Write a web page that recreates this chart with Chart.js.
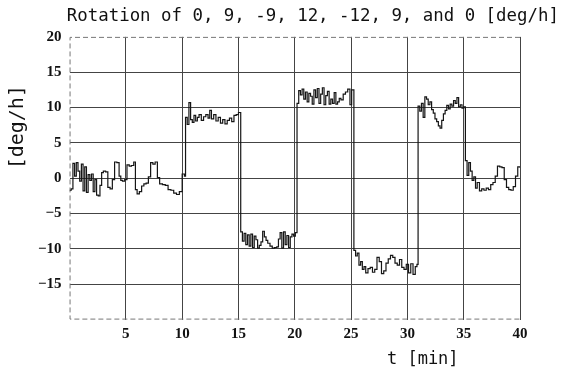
<!DOCTYPE html>
<html>
<head>
<meta charset="utf-8">
<script src="https://cdn.jsdelivr.net/npm/chart.js@4.4.1/dist/chart.umd.min.js"></script>
<style>
  html, body { margin: 0; background: #fff; }
  #wrap { width: 566px; height: 374px; }
</style>
</head>
<body>
<div id="wrap"><canvas id="rotation"></canvas></div>
<script>
const timeMin = [
  0, 0.15, 0.3, 0.45, 0.6, 0.75, 0.9, 1.05, 1.2, 1.35, 1.5, 1.65, 1.8, 1.95, 2.1, 2.25, 2.4, 2.55, 2.7, 2.85,
  3.0, 3.2, 3.4, 3.6, 3.8, 4.0, 4.2, 4.4, 4.55, 4.7, 4.9, 5.1, 5.3, 5.5, 5.7, 5.85, 6.0, 6.2, 6.4, 6.6,
  6.8, 7.0, 7.2, 7.4, 7.6, 7.8, 8.0, 8.25, 8.5, 8.75, 9.0, 9.25, 9.5, 9.75, 10.0, 10.2,
  10.3, 10.45, 10.6, 10.75, 10.9, 11.05, 11.2, 11.35, 11.5, 11.7, 11.9, 12.1, 12.3, 12.45, 12.6, 12.8,
  13.0, 13.2, 13.4, 13.6, 13.8, 14.0, 14.2, 14.4, 14.6, 14.8, 15.0,
  15.2, 15.35, 15.5, 15.65, 15.8, 15.95, 16.1, 16.25, 16.4, 16.55, 16.7, 16.85, 17.0, 17.15, 17.3, 17.45,
  17.6, 17.8, 18.0, 18.2, 18.4, 18.55, 18.7, 18.85, 19.0, 19.15, 19.3, 19.45, 19.6, 19.75, 19.9, 20.05,
  20.2, 20.35, 20.5, 20.65, 20.8, 20.95, 21.1, 21.25, 21.4, 21.55, 21.7, 21.85, 22.0, 22.15, 22.3, 22.45,
  22.6, 22.75, 22.9, 23.05, 23.2, 23.35, 23.5, 23.65, 23.8, 23.95, 24.1, 24.3, 24.5, 24.7, 24.9, 25.05,
  25.25, 25.4, 25.55, 25.7, 25.85, 26.0, 26.15, 26.3, 26.5, 26.7, 26.9, 27.1, 27.3, 27.5, 27.7, 27.9,
  28.1, 28.3, 28.5, 28.7, 28.9, 29.1, 29.3, 29.5, 29.7, 29.9, 30.1, 30.3, 30.5, 30.7, 30.85,
  30.95, 31.1, 31.25, 31.4, 31.55, 31.7, 31.85, 32.0, 32.15, 32.3, 32.45, 32.6, 32.75, 32.9, 33.05, 33.2,
  33.35, 33.5, 33.65, 33.8, 33.95, 34.1, 34.25, 34.4, 34.55, 34.7, 34.85, 35.0,
  35.15, 35.3, 35.45, 35.6, 35.75, 35.9, 36.05, 36.2, 36.4, 36.6, 36.8, 37.0, 37.2, 37.4, 37.6, 37.8,
  38.0, 38.2, 38.4, 38.6, 38.8, 39.0, 39.2, 39.4, 39.6, 39.8, 40.0
];
const rateDegH = [
  -1.7, -1.5, 2.1, 0.3, 2.2, 1.0, -0.4, 2.0, -1.8, 1.6, -2.0, 0.5, -0.3, 0.6, -1.9, -0.2, -2.4, -2.5, -1.0, 0.8,
  1.0, 0.9, -1.3, -1.5, -0.2, 2.3, 2.2, 0.3, -0.3, -0.4, -0.2, 1.9, 1.7, 1.8, 2.3, -1.6, -2.2, -1.9, -1.1, -0.8,
  -0.7, 0.2, 2.2, 2.0, 2.3, 0.1, -0.8, -0.9, -1.0, -1.6, -1.7, -2.1, -2.3, -1.9, 0.6, 0.3,
  8.6, 7.6, 10.7, 8.3, 7.9, 8.9, 8.1, 8.6, 9.0, 8.2, 8.7, 9.0, 8.5, 9.6, 8.4, 9.0,
  8.1, 8.6, 7.8, 8.3, 7.7, 8.2, 8.5, 8.0, 8.9, 9.0, 9.3,
  -7.6, -8.9, -7.8, -9.4, -8.0, -9.6, -7.9, -9.8, -8.2, -8.7, -9.9, -9.5, -9.0, -7.5, -8.3, -8.8,
  -9.2, -9.6, -9.9, -9.8, -9.7, -8.6, -7.7, -9.9, -7.6, -9.4, -8.1, -9.8, -8.3, -7.9, -8.2, -7.7,
  10.6, 12.4, 11.8, 12.6, 11.2, 12.2, 10.8, 12.0, 11.6, 10.5, 12.5, 11.4, 12.7, 10.6, 11.9, 12.8,
  10.4, 11.7, 12.3, 10.5, 11.2, 10.6, 12.1, 10.5, 10.8, 11.3, 11.1, 11.9, 12.2, 12.6, 10.4, 12.5,
  -10.2, -11.0, -10.6, -12.3, -11.8, -12.9, -12.5, -13.4, -12.8, -12.6, -13.3, -12.9, -11.2, -11.8, -13.5, -13.1,
  -12.0, -11.4, -10.9, -11.2, -12.0, -12.3, -11.5, -12.6, -12.9, -12.2, -13.4, -12.1, -13.6, -12.5, -12.2,
  10.2, 9.5, 10.6, 8.6, 11.5, 11.2, 10.4, 10.8, 9.7, 9.2, 8.4, 8.0, 7.4, 7.1, 8.2, 9.1,
  9.6, 10.3, 9.8, 10.5, 10.2, 11.0, 10.6, 11.4, 10.1, 10.4, 9.9, 10.1,
  2.5, 0.4, 2.2, 1.0, -0.3, 0.2, -1.4, -0.6, -1.8, -1.5, -1.7, -1.4, -1.6, -0.9, -0.6, 0.3,
  1.7, 1.6, 1.5, -0.2, -1.3, -1.6, -1.7, -1.2, 0.3, 1.6, 1.5
];
const xRange = [0, 40];
const yRange = [-20, 20];
const tickStep = 5;

const titleText = 'Rotation of 0, 9, -9, 12, -12, 9, and 0 [deg/h]';

// dashed outer frame (left, top, bottom) like the scanned plot
const dashedFrame = {
  id: 'dashedFrame',
  beforeDatasetsDraw(chart) {
    const {ctx, chartArea: a} = chart;
    ctx.save();
    ctx.strokeStyle = '#777';
    ctx.lineWidth = 1;
    ctx.setLineDash([5, 3]);
    ctx.beginPath();
    ctx.moveTo(a.right, a.top + 0.5);
    ctx.lineTo(a.left + 0.5, a.top + 0.5);
    ctx.lineTo(a.left + 0.5, a.bottom - 0.5);
    ctx.lineTo(a.right, a.bottom - 0.5);
    ctx.stroke();
    ctx.restore();
  }
};

const tickFont = {family: 'Liberation Serif', size: 15, weight: 'bold'};
const labelFamily = 'DejaVu Sans Mono';
const fmtTick = v => String(v).replace('-', '\u2212');

new Chart(document.getElementById('rotation'), {
  type: 'line',
  data: {
    datasets: [{
      data: timeMin.map((t, i) => ({x: t, y: rateDegH[i]})),
      borderColor: '#151515',
      borderWidth: 1.2,
      pointRadius: 0,
      stepped: true,
      fill: false
    }]
  },
  options: {
    responsive: true,
    maintainAspectRatio: false,
    animation: false,
    devicePixelRatio: 1,
    layout: {padding: {left: 4, right: 4, bottom: 3, top: 0}},
    plugins: {
      legend: {display: false},
      tooltip: {enabled: false},
      title: {
        display: true,
        text: ' '.repeat(6) + titleText,
        align: 'start',
        color: '#111',
        font: {family: labelFamily, size: 17.4, weight: 'normal'},
        padding: {top: 6, bottom: 10}
      }
    },
    scales: {
      x: {
        type: 'linear',
        min: xRange[0],
        max: xRange[1],
        ticks: {
          stepSize: tickStep,
          color: '#111',
          font: tickFont,
          padding: 6,
          callback: v => (v === xRange[0] ? '' : fmtTick(v))
        },
        grid: {
          drawTicks: false,
          lineWidth: 1,
          color: c => (c.tick && c.tick.value === xRange[0]) ? 'rgba(0,0,0,0)' : '#444'
        },
        border: {display: false},
        title: {
          display: true,
          text: 't [min]' + ' '.repeat(6),
          align: 'end',
          color: '#111',
          font: {family: labelFamily, size: 17},
          padding: {top: 0, bottom: 1}
        }
      },
      y: {
        min: yRange[0],
        max: yRange[1],
        ticks: {
          stepSize: tickStep,
          color: '#111',
          font: tickFont,
          padding: 8,
          callback: v => (v === yRange[0] ? '' : fmtTick(v))
        },
        grid: {
          drawTicks: false,
          lineWidth: 1,
          color: c => (c.tick && (c.tick.value === yRange[0] || c.tick.value === yRange[1])) ? 'rgba(0,0,0,0)' : '#444'
        },
        border: {display: false},
        title: {
          display: true,
          text: '[deg/h]' + ' '.repeat(4),
          align: 'end',
          color: '#111',
          font: {family: labelFamily, size: 20},
          padding: {top: 2, bottom: 0}
        }
      },
      // empty right-hand margin so the plot ends at t = 40 well before the title does
      yRight: {
        position: 'right',
        grid: {display: false},
        border: {display: false},
        ticks: {display: false},
        afterFit: s => { s.width = 42; }
      }
    }
  },
  plugins: [dashedFrame]
});
</script>
</body>
</html>
